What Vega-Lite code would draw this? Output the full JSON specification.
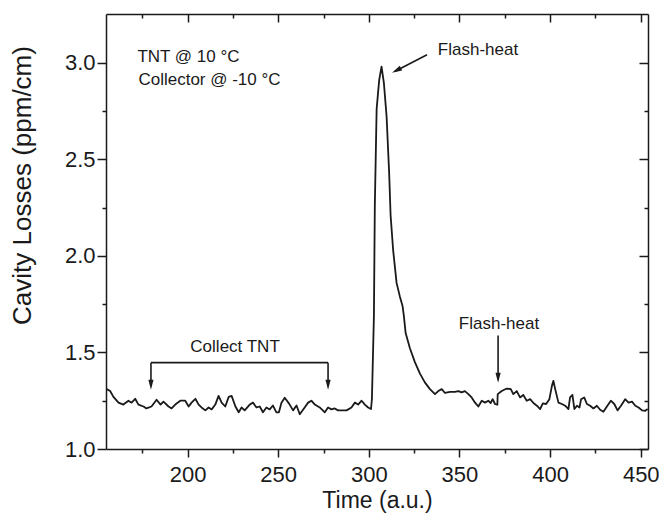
{
  "$schema": "https://vega.github.io/schema/vega-lite/v6.json",
  "autosize": {"type": "none"},
  "padding": {"left": 106, "top": 14, "right": 11, "bottom": 72},
  "width": 542,
  "height": 435,
  "background": "white",
  "config": {
    "view": {"stroke": null},
    "axis": {
      "grid": false,
      "domainColor": "#1a1a1a",
      "domainWidth": 1.5,
      "tickColor": "#1a1a1a",
      "tickWidth": 1.5,
      "labelFont": "Liberation Sans",
      "titleFont": "Liberation Sans",
      "labelColor": "#1a1a1a",
      "titleColor": "#1a1a1a",
      "titleFontWeight": "normal"
    }
  },
  "datasets": {
    "series": [
      {"t": 155.4, "v": 1.31}, {"t": 157.3, "v": 1.30}, {"t": 159.1, "v": 1.27}, {"t": 161.9, "v": 1.24},
      {"t": 164.6, "v": 1.23}, {"t": 167.4, "v": 1.25}, {"t": 169.1, "v": 1.24}, {"t": 171.1, "v": 1.26},
      {"t": 172.9, "v": 1.23}, {"t": 175.7, "v": 1.22}, {"t": 177.3, "v": 1.21}, {"t": 180.1, "v": 1.22},
      {"t": 182.9, "v": 1.255}, {"t": 185.1, "v": 1.23}, {"t": 186.7, "v": 1.245}, {"t": 189.5, "v": 1.22},
      {"t": 191.2, "v": 1.21}, {"t": 193.2, "v": 1.23}, {"t": 196.0, "v": 1.25}, {"t": 198.7, "v": 1.25},
      {"t": 200.6, "v": 1.22}, {"t": 202.2, "v": 1.24}, {"t": 204.3, "v": 1.26}, {"t": 206.1, "v": 1.23},
      {"t": 207.7, "v": 1.215}, {"t": 209.8, "v": 1.20}, {"t": 211.6, "v": 1.215}, {"t": 213.3, "v": 1.205},
      {"t": 215.3, "v": 1.23}, {"t": 217.1, "v": 1.275}, {"t": 218.8, "v": 1.24}, {"t": 220.8, "v": 1.22},
      {"t": 222.7, "v": 1.27}, {"t": 224.3, "v": 1.275}, {"t": 226.4, "v": 1.22}, {"t": 228.2, "v": 1.19},
      {"t": 229.8, "v": 1.215}, {"t": 231.5, "v": 1.20}, {"t": 234.3, "v": 1.23}, {"t": 236.1, "v": 1.24},
      {"t": 238.0, "v": 1.215}, {"t": 239.8, "v": 1.22}, {"t": 241.6, "v": 1.19}, {"t": 243.5, "v": 1.215},
      {"t": 245.3, "v": 1.205}, {"t": 247.1, "v": 1.225}, {"t": 249.0, "v": 1.19}, {"t": 250.4, "v": 1.19},
      {"t": 251.8, "v": 1.24}, {"t": 253.6, "v": 1.265}, {"t": 256.0, "v": 1.235}, {"t": 258.2, "v": 1.20},
      {"t": 260.1, "v": 1.225}, {"t": 261.9, "v": 1.18}, {"t": 264.6, "v": 1.215}, {"t": 266.5, "v": 1.24},
      {"t": 268.3, "v": 1.25}, {"t": 270.2, "v": 1.23}, {"t": 272.9, "v": 1.215}, {"t": 275.7, "v": 1.19},
      {"t": 277.5, "v": 1.215}, {"t": 279.4, "v": 1.205}, {"t": 281.2, "v": 1.21}, {"t": 283.0, "v": 1.20},
      {"t": 284.9, "v": 1.20}, {"t": 287.7, "v": 1.20}, {"t": 290.4, "v": 1.215}, {"t": 292.3, "v": 1.24},
      {"t": 294.1, "v": 1.23}, {"t": 296.0, "v": 1.25}, {"t": 297.8, "v": 1.23}, {"t": 299.6, "v": 1.215},
      {"t": 301.2, "v": 1.207}, {"t": 301.7, "v": 1.26}, {"t": 302.8, "v": 1.69}, {"t": 303.3, "v": 2.26},
      {"t": 304.3, "v": 2.76}, {"t": 305.7, "v": 2.91}, {"t": 307.0, "v": 2.98}, {"t": 308.3, "v": 2.895},
      {"t": 309.8, "v": 2.72}, {"t": 311.2, "v": 2.43}, {"t": 312.0, "v": 2.21}, {"t": 313.4, "v": 2.03},
      {"t": 315.3, "v": 1.86}, {"t": 317.1, "v": 1.79}, {"t": 318.6, "v": 1.74}, {"t": 319.3, "v": 1.69},
      {"t": 320.3, "v": 1.60}, {"t": 322.7, "v": 1.52}, {"t": 325.4, "v": 1.45}, {"t": 328.2, "v": 1.39},
      {"t": 330.9, "v": 1.345}, {"t": 333.7, "v": 1.31}, {"t": 336.5, "v": 1.284}, {"t": 338.3, "v": 1.30},
      {"t": 340.2, "v": 1.31}, {"t": 342.0, "v": 1.29}, {"t": 344.8, "v": 1.296}, {"t": 347.5, "v": 1.296},
      {"t": 349.3, "v": 1.30}, {"t": 351.2, "v": 1.293}, {"t": 353.0, "v": 1.30}, {"t": 354.9, "v": 1.284},
      {"t": 356.7, "v": 1.267}, {"t": 358.6, "v": 1.24}, {"t": 360.4, "v": 1.22}, {"t": 362.3, "v": 1.25},
      {"t": 364.1, "v": 1.24}, {"t": 365.9, "v": 1.25}, {"t": 367.2, "v": 1.238}, {"t": 368.3, "v": 1.258},
      {"t": 369.6, "v": 1.233}, {"t": 370.9, "v": 1.229}, {"t": 371.1, "v": 1.284}, {"t": 373.3, "v": 1.30},
      {"t": 376.1, "v": 1.313}, {"t": 378.3, "v": 1.31}, {"t": 379.7, "v": 1.284}, {"t": 381.6, "v": 1.30},
      {"t": 383.4, "v": 1.267}, {"t": 385.2, "v": 1.28}, {"t": 387.1, "v": 1.25}, {"t": 389.0, "v": 1.258},
      {"t": 390.8, "v": 1.238}, {"t": 392.7, "v": 1.224}, {"t": 394.5, "v": 1.207}, {"t": 396.0, "v": 1.236},
      {"t": 397.8, "v": 1.233}, {"t": 399.6, "v": 1.258}, {"t": 401.0, "v": 1.327}, {"t": 401.8, "v": 1.353},
      {"t": 402.8, "v": 1.31}, {"t": 404.6, "v": 1.24}, {"t": 406.5, "v": 1.233}, {"t": 408.3, "v": 1.224},
      {"t": 410.1, "v": 1.207}, {"t": 411.0, "v": 1.267}, {"t": 412.3, "v": 1.28}, {"t": 413.4, "v": 1.207},
      {"t": 414.8, "v": 1.224}, {"t": 416.2, "v": 1.215}, {"t": 417.1, "v": 1.258}, {"t": 418.8, "v": 1.267},
      {"t": 420.3, "v": 1.233}, {"t": 422.1, "v": 1.224}, {"t": 423.9, "v": 1.21}, {"t": 425.8, "v": 1.224},
      {"t": 427.6, "v": 1.203}, {"t": 429.4, "v": 1.193}, {"t": 431.6, "v": 1.224}, {"t": 433.5, "v": 1.25},
      {"t": 435.4, "v": 1.233}, {"t": 437.2, "v": 1.20}, {"t": 439.1, "v": 1.224}, {"t": 441.4, "v": 1.258},
      {"t": 443.3, "v": 1.24}, {"t": 445.2, "v": 1.245}, {"t": 447.0, "v": 1.224}, {"t": 448.8, "v": 1.215},
      {"t": 450.7, "v": 1.20}, {"t": 452.5, "v": 1.198}, {"t": 453.8, "v": 1.207}
    ],
    "segs": [
      {"x1": 179.8, "y1": 1.447, "x2": 277.5, "y2": 1.447},
      {"x1": 179.8, "y1": 1.447, "x2": 179.8, "y2": 1.33},
      {"x1": 277.5, "y1": 1.447, "x2": 277.5, "y2": 1.33},
      {"x1": 371.3, "y1": 1.587, "x2": 371.3, "y2": 1.36},
      {"x1": 332.1, "y1": 3.041, "x2": 314.5, "y2": 2.956}
    ],
    "heads": [
      {"x": 179.8, "y": 1.307, "kind": "down"},
      {"x": 277.5, "y": 1.307, "kind": "down"},
      {"x": 371.3, "y": 1.343, "kind": "down"},
      {"x": 312.8, "y": 2.948, "kind": "diag"}
    ],
    "notes": [
      {"x": 200.5, "y": 3.031, "label": "TNT @ 10 °C"},
      {"x": 212.1, "y": 2.912, "label": "Collector @ -10 °C"},
      {"x": 360.2, "y": 3.067, "label": "Flash-heat"},
      {"x": 226.2, "y": 1.53, "label": "Collect TNT"},
      {"x": 371.8, "y": 1.645, "label": "Flash-heat"}
    ]
  },
  "layer": [
    {
      "data": {"name": "series"},
      "mark": {"type": "line", "color": "#1a1a1a", "strokeWidth": 1.8, "strokeJoin": "round"},
      "encoding": {
        "x": {"field": "t", "type": "quantitative",
              "scale": {"domain": [155, 454], "nice": false, "zero": false},
              "axis": {"orient": "bottom", "values": [200, 250, 300, 350, 400, 450], "tickSize": 8,
                       "labelFontSize": 22, "labelPadding": 7, "title": "Time (a.u.)", "titleFontSize": 23,
                       "titleBaseline": "alphabetic", "titleY": 58}},
        "y": {"field": "v", "type": "quantitative",
              "scale": {"domain": [1.0, 3.252], "nice": false, "zero": false},
              "axis": {"orient": "left", "values": [1.0, 1.5, 2.0, 2.5, 3.0], "format": ".1f", "tickSize": 9,
                       "labelFontSize": 22, "labelPadding": 2, "title": "Cavity Losses (ppm/cm)", "titleFontSize": 26,
                       "titleX": -84, "titleY": 171, "titleBaseline": "middle", "titleAlign": "center"}}
      }
    },
    {
      "data": {"name": "series"},
      "mark": {"type": "line", "opacity": 0},
      "encoding": {
        "x": {"field": "t", "type": "quantitative",
              "scale": {"domain": [155, 454], "nice": false, "zero": false},
              "axis": {"orient": "bottom", "values": [175, 225, 275, 325, 375, 425], "tickSize": 4,
                       "labels": false, "domain": false, "title": null}},
        "y": {"field": "v", "type": "quantitative",
              "scale": {"domain": [1.0, 3.252], "nice": false, "zero": false},
              "axis": {"orient": "left", "values": [1.25, 1.75, 2.25, 2.75], "tickSize": 4,
                       "labels": false, "domain": false, "title": null}}
      }
    },
    {
      "data": {"name": "series"},
      "mark": {"type": "line", "opacity": 0},
      "encoding": {
        "x": {"field": "t", "type": "quantitative",
              "scale": {"domain": [155, 454], "nice": false, "zero": false},
              "axis": {"orient": "top", "values": [200, 250, 300, 350, 400, 450], "tickSize": -8,
                       "labels": false, "title": null}},
        "y": {"field": "v", "type": "quantitative",
              "scale": {"domain": [1.0, 3.252], "nice": false, "zero": false},
              "axis": {"orient": "right", "values": [1.0, 1.5, 2.0, 2.5, 3.0], "tickSize": -9,
                       "labels": false, "title": null}}
      }
    },
    {
      "data": {"name": "series"},
      "mark": {"type": "line", "opacity": 0},
      "encoding": {
        "x": {"field": "t", "type": "quantitative",
              "scale": {"domain": [155, 454], "nice": false, "zero": false},
              "axis": {"orient": "top", "values": [175, 225, 275, 325, 375, 425], "tickSize": -4,
                       "labels": false, "domain": false, "title": null}},
        "y": {"field": "v", "type": "quantitative",
              "scale": {"domain": [1.0, 3.252], "nice": false, "zero": false},
              "axis": {"orient": "right", "values": [1.25, 1.75, 2.25, 2.75], "tickSize": -4,
                       "labels": false, "domain": false, "title": null}}
      }
    },
    {
      "data": {"name": "segs"},
      "mark": {"type": "rule", "color": "#1a1a1a", "strokeWidth": 1.6},
      "encoding": {
        "x": {"field": "x1", "type": "quantitative", "axis": null, "scale": {"domain": [155, 454], "nice": false, "zero": false}},
        "y": {"field": "y1", "type": "quantitative", "axis": null, "scale": {"domain": [1.0, 3.252], "nice": false, "zero": false}},
        "x2": {"field": "x2"},
        "y2": {"field": "y2"}
      }
    },
    {
      "data": {"name": "heads"},
      "transform": [{"filter": "datum.kind === 'down'"}],
      "mark": {"type": "point", "shape": "M0,0L-0.26,-1L0.26,-1Z", "filled": true, "color": "#1a1a1a", "size": 400, "opacity": 1, "strokeWidth": 0},
      "encoding": {
        "x": {"field": "x", "type": "quantitative", "axis": null, "scale": {"domain": [155, 454], "nice": false, "zero": false}},
        "y": {"field": "y", "type": "quantitative", "axis": null, "scale": {"domain": [1.0, 3.252], "nice": false, "zero": false}}
      }
    },
    {
      "data": {"name": "heads"},
      "transform": [{"filter": "datum.kind === 'diag'"}],
      "mark": {"type": "point", "shape": "M0,0L-0.26,-1L0.26,-1Z", "filled": true, "color": "#1a1a1a", "size": 400, "angle": 62.8, "opacity": 1, "strokeWidth": 0},
      "encoding": {
        "x": {"field": "x", "type": "quantitative", "axis": null, "scale": {"domain": [155, 454], "nice": false, "zero": false}},
        "y": {"field": "y", "type": "quantitative", "axis": null, "scale": {"domain": [1.0, 3.252], "nice": false, "zero": false}}
      }
    },
    {
      "data": {"name": "notes"},
      "mark": {"type": "text", "font": "Liberation Sans", "fontSize": 17, "color": "#1a1a1a", "align": "center", "baseline": "middle"},
      "encoding": {
        "x": {"field": "x", "type": "quantitative", "axis": null, "scale": {"domain": [155, 454], "nice": false, "zero": false}},
        "y": {"field": "y", "type": "quantitative", "axis": null, "scale": {"domain": [1.0, 3.252], "nice": false, "zero": false}},
        "text": {"field": "label"}
      }
    }
  ],
  "resolve": {"axis": {"x": "independent", "y": "independent"}}
}
